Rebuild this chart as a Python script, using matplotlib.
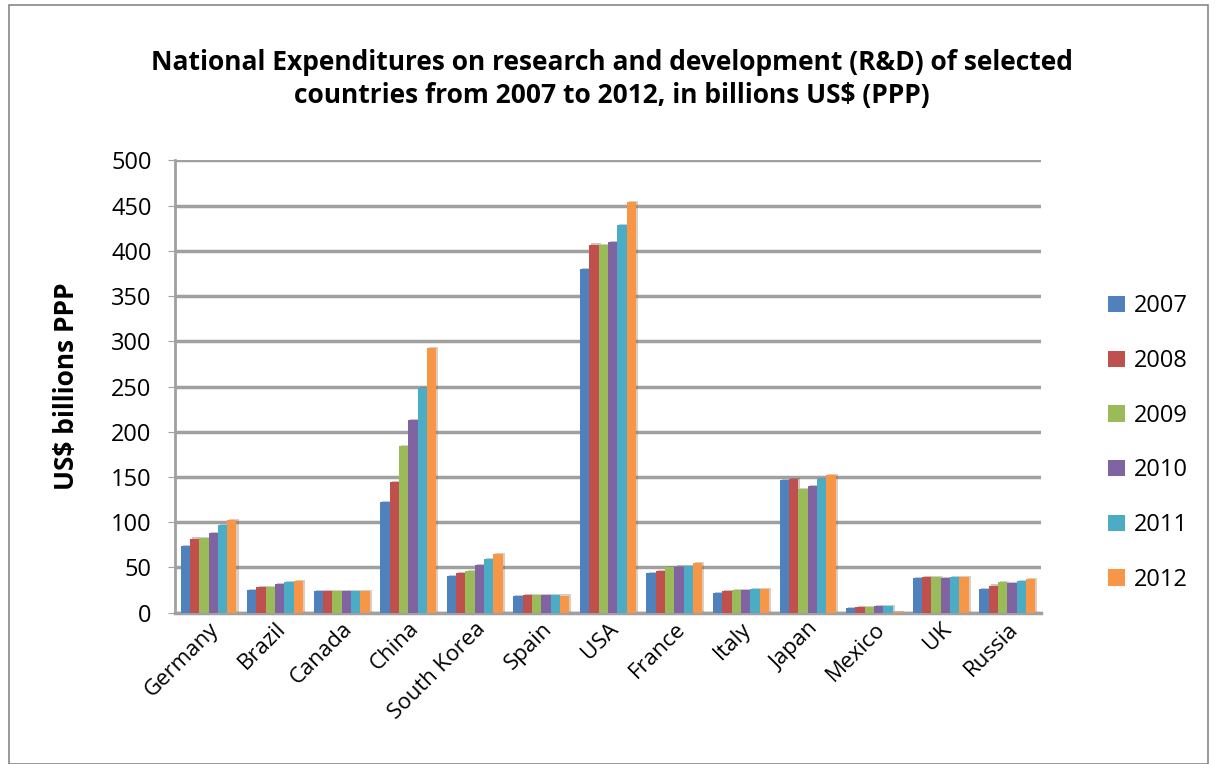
import numpy as np
import matplotlib.pyplot as plt
import matplotlib.patheffects as pe
from matplotlib.patches import Rectangle, Patch

plt.rcParams['font.family'] = ['Open Sans', 'DejaVu Sans']

countries = ['Germany', 'Brazil', 'Canada', 'China', 'South Korea', 'Spain', 'USA',
             'France', 'Italy', 'Japan', 'Mexico', 'UK', 'Russia']
years = ['2007', '2008', '2009', '2010', '2011', '2012']

v2007 = [74, 25, 24, 122, 41, 18, 380, 44, 22, 147, 5, 38, 26]
v2008 = [82, 28, 24, 144, 44, 20, 407, 46, 24, 148, 6, 39, 30]
v2009 = [83, 28, 24, 184, 46, 20, 406, 50, 25, 137, 6, 39, 34]
v2010 = [88, 32, 24, 213, 53, 20, 410, 51, 25, 140, 7, 38, 33]
v2011 = [97, 34, 24, 248, 59, 20, 429, 52, 26, 148, 7, 39, 35]
v2012 = [102, 35, 24, 293, 65, 19, 454, 55, 26, 152, 0.5, 39, 37]
series = [v2007, v2008, v2009, v2010, v2011, v2012]
colors = ['#4f81bd', '#c0504d', '#9bbb59', '#8064a2', '#4bacc6', '#f79646']

fig = plt.figure(figsize=(12.17, 7.64), dpi=100)
fig.patches.append(Rectangle((0.007, 0.0), 0.986, 0.993, transform=fig.transFigure,
                             fill=False, edgecolor='#888888', linewidth=1.2))
ax = fig.add_axes([0.144, 0.198, 0.711, 0.592])

x = np.arange(len(countries))
w = 0.14
for i, (vals, c) in enumerate(zip(series, colors)):
    ax.bar(x + (i - 2.5) * w, vals, w, color=c, zorder=3,
           path_effects=[pe.SimplePatchShadow(offset=(1.5, 0.8), rho=0.6), pe.Normal()])

ax.set_xlim(-0.5, len(countries) - 0.5)
ax.set_ylim(0, 500)
ax.set_yticks(range(0, 501, 50))
ax.yaxis.grid(True, color='#a0a0a0', linewidth=2.5, zorder=0)
ax.set_axisbelow(True)
for s in ['top', 'right']:
    ax.spines[s].set_visible(False)
ax.spines['left'].set_color('#a0a0a0')
ax.spines['left'].set_linewidth(2)
ax.spines['bottom'].set_color('#a0a0a0')
ax.spines['bottom'].set_linewidth(2.5)
ax.tick_params(axis='y', labelsize=17, length=5, color='#a0a0a0', pad=12)
ax.tick_params(axis='x', length=0, labelsize=16, pad=4)
ax.set_xticks(x)
ax.set_xticklabels(countries, rotation=45, ha='right', rotation_mode='anchor')
ax.set_ylabel('US$ billions PPP', fontsize=19, fontweight='bold', labelpad=22)

fig.suptitle('National Expenditures on research and development (R&D) of selected\n'
             'countries from 2007 to 2012, in billions US$ (PPP)',
             x=0.503, y=0.936, fontsize=19, fontweight='bold', linespacing=1.3)

handles = [Patch(facecolor=c, label=y) for c, y in zip(colors, years)]
fig.legend(handles=handles, loc='center left', bbox_to_anchor=(0.893, 0.42),
           frameon=False, fontsize=17, handlelength=0.7, handleheight=0.7,
           labelspacing=1.3, handletextpad=0.4)

fig.savefig('out.png', dpi=100)
